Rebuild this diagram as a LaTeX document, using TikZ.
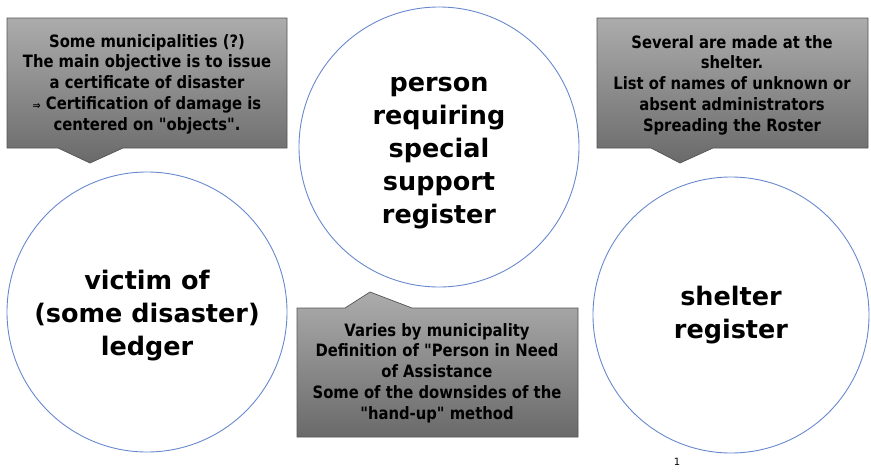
\documentclass[tikz,border=0pt]{standalone}
\usepackage{fontspec}
\setmainfont{DejaVu Sans}[Ligatures=ResetAll]
\newfontfamily\notefont{DejaVu Sans}[Ligatures=ResetAll, FakeStretch=0.87]
\definecolor{ringblue}{RGB}{104,136,206}
\definecolor{notetop}{RGB}{172,172,172}
\definecolor{notebot}{RGB}{106,106,106}
\definecolor{noteedge}{RGB}{84,84,84}
\begin{document}
\begin{tikzpicture}[x=1pt,y=-1pt,
  ring/.style={circle, draw=ringblue, line width=0.9pt, inner sep=0pt},
  ringtext/.style={align=center, inner sep=0pt, font=\bfseries\fontsize{25.5}{33}\selectfont},
  notebg/.style={top color=notetop, bottom color=notebot, draw=noteedge, line width=0.7pt},
  notetext/.style={align=center, inner sep=0pt, font=\notefont\bfseries\fontsize{17}{20.7}\selectfont}]
\useasboundingbox (0,0) rectangle (871,472);

% the three registers
\node[ring, minimum size=280pt] (victim) at (147,312) {};
\node[ring, minimum size=280pt] (support) at (439,147) {};
\node[ring, minimum size=276pt] (shelter) at (731,315) {};
\node[ringtext] (victimlabel) at ([yshift=-4pt]victim.center) {victim of\\(some disaster)\\ledger};
\node[ringtext] (supportlabel) at ([yshift=-6pt]support.center) {person\\requiring\\special\\support\\register};
\node[ringtext] (shelterlabel) at ([yshift=0pt]shelter.center) {shelter\\register};

% callout backgrounds with their pointers
\path[notebg] (7,18) -- (287,18) -- (287,148) -- (123,148) -- (90,163) -- (58,148) -- (7,148) -- cycle;
\path[notebg] (597,18) -- (868,18) -- (868,148) -- (713,148) -- (680,163) -- (651,148) -- (597,148) -- cycle;
\path[notebg] (297,308) -- (345,308) -- (370,292) -- (412,308) -- (578,308) -- (578,437) -- (297,437) -- cycle;

% callout texts
\node[notetext] (victimnote) at (147,84) {Some municipalities (?)\\The main objective is to issue\\a certificate of disaster\\{\fontsize{11}{12}\selectfont ⇒} Certification of damage is\\centered on "objects".};
\node[notetext] (sheltnote) at (732,85) {Several are made at the\\shelter.\\List of names of unknown or\\absent administrators\\Spreading the Roster};
\node[notetext] (supportnote) at (437,373) {Varies by municipality\\Definition of "Person in Need\\of Assistance\\Some of the downsides of the\\"hand-up" method};

% page number
\node[inner sep=0pt, font=\fontsize{10}{11}\selectfont] (pagenum) at (677,462) {1};
\end{tikzpicture}
\end{document}
